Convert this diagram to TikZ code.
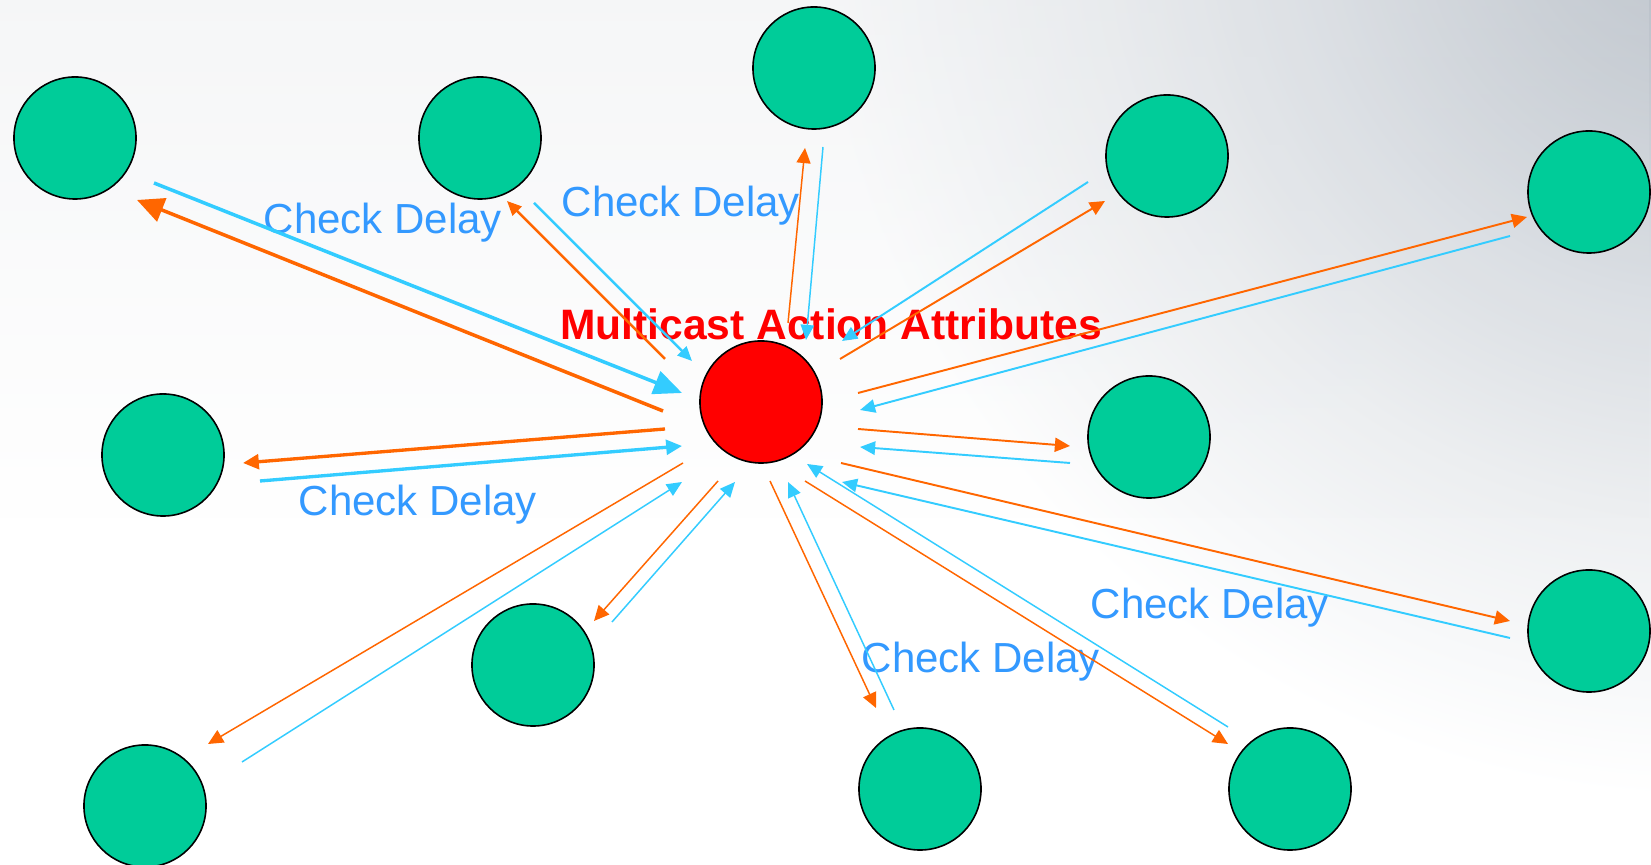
\documentclass[tikz,border=0pt]{standalone}
\usepackage{fontspec}
\setmainfont{Liberation Sans}
\usetikzlibrary{arrows.meta,fadings}

\definecolor{leafgreen}{RGB}{0,204,153}
\definecolor{hubred}{RGB}{255,0,0}
\definecolor{sendorange}{RGB}{255,102,0}
\definecolor{replyblue}{RGB}{51,204,255}
\definecolor{labelblue}{RGB}{51,153,255}
\definecolor{bgA}{RGB}{176,184,194}
\definecolor{bgB}{RGB}{196,202,209}
\definecolor{bgC}{RGB}{218,222,227}
\definecolor{bgD}{RGB}{237,239,241}
\definecolor{bgE}{RGB}{248,249,250}
\definecolor{haze}{RGB}{222,225,229}

% soft grey glow coming in from the upper right corner
% (the path's bounding box is mapped onto the inner 25bp radius)
\pgfdeclareradialshading{cornerglow}{\pgfpoint{0bp}{0bp}}{%
  color(0bp)=(bgA); color(5.5bp)=(bgB); color(11bp)=(bgC);
  color(17bp)=(bgD); color(22bp)=(bgE); color(25bp)=(white);
  color(50bp)=(white)}
\tikzfading[name=topveil, top color=transparent!72, bottom color=transparent!100]

\begin{document}
\begin{tikzpicture}[x=0.01cm, y=-0.01cm,
  member/.style={circle, draw=black, line width=0.45pt, fill=leafgreen,
    minimum size=1.22cm, inner sep=0pt},
  source/.style={member, fill=hubred},
  delay/.style={text=labelblue, font=\fontsize{11.95}{14}\selectfont,
    inner sep=0pt, anchor=base west},
  title/.style={text=hubred, font=\fontsize{12.1}{14}\selectfont\bfseries,
    inner sep=0pt, anchor=base},
  send/.style={draw=sendorange, line width=0.42pt,
    -{Triangle[length=4.3pt,width=4pt]}},
  reply/.style={draw=replyblue, line width=0.42pt,
    -{Triangle[length=4.3pt,width=3.8pt]}},
  wide/.style={line width=0.55pt},
  medium/.style={line width=0.7pt, -{Triangle[length=4.1pt,width=3.6pt]}},
  heavy/.style={line width=0.95pt, -{Triangle[length=4.5pt,width=4.2pt]}},
  huge/.style={line width=1pt, -{Triangle[length=7.6pt,width=7pt]}}
]
\useasboundingbox (0,0) rectangle (1651,865);

% background
\fill[white] (0,0) rectangle (1651,865);
\begin{scope}
  \clip (0,0) rectangle (1651,865);
  \shade[shading=cornerglow] (1710,-100) circle (900);
  \fill[haze, path fading=topveil] (0,0) rectangle (1651,520);
\end{scope}

% group members and the sending host
\node[source] (hub) at (761,402) {};
\node[member] (m1)  at (75,138)   {};
\node[member] (m2)  at (480,138)  {};
\node[member] (m3)  at (814,68)   {};
\node[member] (m4)  at (1167,156) {};
\node[member] (m5)  at (1589,192) {};
\node[member] (m6)  at (163,455)  {};
\node[member] (m7)  at (1149,437) {};
\node[member] (m8)  at (533,665)  {};
\node[member] (m9)  at (145,806)  {};
\node[member] (m10) at (920,789)  {};
\node[member] (m11) at (1290,789) {};
\node[member] (m12) at (1589,631) {};

% labels
\node[title] (attr) at (831,340) {Multicast Action Attributes};
\node[delay] (cd1) at (263,234) {Check Delay};
\node[delay] (cd2) at (561,217) {Check Delay};
\node[delay] (cd3) at (298,516) {Check Delay};
\node[delay] (cd4) at (861,673) {Check Delay};
\node[delay] (cd5) at (1090,619) {Check Delay};

% end points of the outgoing (o) and returning (r) arrows
\coordinate (o1s) at (663,411);  \coordinate (o1e) at (137,200);
\coordinate (r1s) at (154,183);  \coordinate (r1e) at (682,393);
\coordinate (o2s) at (665,359);  \coordinate (o2e) at (507,201);
\coordinate (r2s) at (534,203);  \coordinate (r2e) at (692,361);
\coordinate (o3s) at (788,323);  \coordinate (o3e) at (805,148);
\coordinate (r3s) at (823,147);  \coordinate (r3e) at (806,340);
\coordinate (o4s) at (840,359);  \coordinate (o4e) at (1105,201);
\coordinate (r4s) at (1088,182); \coordinate (r4e) at (842,341);
\coordinate (o5s) at (858,393);  \coordinate (o5e) at (1527,217);
\coordinate (r5s) at (1510,236); \coordinate (r5e) at (860,410);
\coordinate (o6s) at (665,429);  \coordinate (o6e) at (243,463);
\coordinate (r6s) at (260,481);  \coordinate (r6e) at (682,446);
\coordinate (o7s) at (858,429);  \coordinate (o7e) at (1070,446);
\coordinate (r7s) at (1070,463); \coordinate (r7e) at (860,447);
\coordinate (o8s) at (718,481);  \coordinate (o8e) at (594,621);
\coordinate (r8s) at (612,622);  \coordinate (r8e) at (735,482);
\coordinate (o9s) at (683,463);  \coordinate (o9e) at (208,744);
\coordinate (r9s) at (242,762);  \coordinate (r9e) at (682,482);
\coordinate (o10s) at (770,481); \coordinate (o10e) at (876,708);
\coordinate (r10s) at (894,710); \coordinate (r10e) at (788,482);
\coordinate (o11s) at (805,481); \coordinate (o11e) at (1228,744);
\coordinate (r11s) at (1228,727);\coordinate (r11e) at (807,464);
\coordinate (o12s) at (841,463); \coordinate (o12e) at (1510,621);
\coordinate (r12s) at (1510,638);\coordinate (r12e) at (842,482);

% arrows
\draw[send, huge] (o1s) -- (o1e);
\draw[reply, line width=1pt, -{Triangle[length=8pt,width=6.8pt]}] (r1s) -- (r1e);
\draw[send, medium] (o2s) -- (o2e);
\draw[reply, medium] (r2s) -- (r2e);
\draw[send] (o3s) -- (o3e);
\draw[reply] (r3s) -- (r3e);
\draw[send, wide] (o4s) -- (o4e);
\draw[reply, wide] (r4s) -- (r4e);
\draw[send, wide] (o5s) -- (o5e);
\draw[reply, wide] (r5s) -- (r5e);
\draw[send, heavy] (o6s) -- (o6e);
\draw[reply, heavy] (r6s) -- (r6e);
\draw[send, wide] (o7s) -- (o7e);
\draw[reply, wide] (r7s) -- (r7e);
\draw[send] (o8s) -- (o8e);
\draw[reply] (r8s) -- (r8e);
\draw[send] (o9s) -- (o9e);
\draw[reply] (r9s) -- (r9e);
\draw[send] (o10s) -- (o10e);
\draw[reply] (r10s) -- (r10e);
\draw[send] (o11s) -- (o11e);
\draw[reply] (r11s) -- (r11e);
\draw[send, wide] (o12s) -- (o12e);
\draw[reply, wide] (r12s) -- (r12e);
\end{tikzpicture}
\end{document}
